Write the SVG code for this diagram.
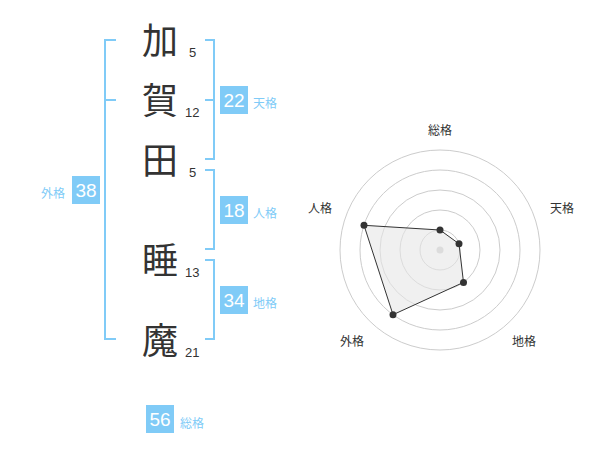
<svg xmlns="http://www.w3.org/2000/svg" width="600" height="470" viewBox="0 0 600 470">
<style>
.k{font-family:"Noto Sans CJK JP","Noto Sans CJK SC",sans-serif;font-size:36px;fill:#333;text-anchor:middle}
.n{font-family:"Liberation Sans",Arial,sans-serif;font-size:13px;fill:#333}
.br{fill:none;stroke:#80cbf7;stroke-width:2}
.bx{fill:#80cbf7}
.bn{font-family:"Liberation Sans",Arial,sans-serif;font-size:19px;fill:#fff;text-anchor:middle}
.lb{font-family:"Noto Sans CJK JP","Noto Sans CJK SC",sans-serif;font-size:12px;fill:#80cbf7}
.rl{font-family:"Noto Sans CJK JP","Noto Sans CJK SC",sans-serif;font-size:12px;fill:#333;text-anchor:middle}
.ci{fill:none;stroke:#ccc;stroke-width:1}
</style>
<rect width="600" height="470" fill="#fff"/>
<g id="chars">
<text class="k" x="160" y="54">加</text>
<text class="n" x="189" y="57">5</text>
<text class="k" x="160" y="114">賀</text>
<text class="n" x="185" y="117">12</text>
<text class="k" x="160" y="174">田</text>
<text class="n" x="189" y="177">5</text>
<text class="k" x="160" y="274">睡</text>
<text class="n" x="185" y="277">13</text>
<text class="k" x="160" y="354">魔</text>
<text class="n" x="185" y="357">21</text>
</g>
<g id="connectors">
<path class="br" d="M116,40 H105 V339 H116 M105,100 H116"/>
<path class="br" d="M205,40 H214 V159 H205 M205,100 H214"/>
<path class="br" d="M205,170 H214 V249 H205"/>
<path class="br" d="M205,260 H214 V339 H205"/>
</g>
<g id="gaikaku">
<rect class="bx" x="72" y="176" width="28" height="28"/>
<text class="bn" x="86" y="197">38</text>
<text class="lb" x="41" y="198">外格</text>
</g>
<g id="tenkaku">
<rect class="bx" x="220" y="86" width="28" height="28"/>
<text class="bn" x="234" y="107">22</text>
<text class="lb" x="253" y="108">天格</text>
</g>
<g id="jinkaku">
<rect class="bx" x="220" y="196" width="28" height="28"/>
<text class="bn" x="234" y="217">18</text>
<text class="lb" x="253" y="218">人格</text>
</g>
<g id="chikaku">
<rect class="bx" x="220" y="286" width="28" height="28"/>
<text class="bn" x="234" y="307">34</text>
<text class="lb" x="253" y="308">地格</text>
</g>
<g id="soukaku">
<rect class="bx" x="146" y="405" width="28" height="28"/>
<text class="bn" x="160" y="426">56</text>
<text class="lb" x="180" y="428">総格</text>
</g>
<g id="radar">
<circle class="ci" cx="440" cy="250" r="20"/>
<circle class="ci" cx="440" cy="250" r="40"/>
<circle class="ci" cx="440" cy="250" r="60"/>
<circle class="ci" cx="440" cy="250" r="80"/>
<circle class="ci" cx="440" cy="250" r="100"/>
<circle cx="440" cy="250" r="3.5" fill="#ccc"/>
<polygon points="440,230 459,243.8 463.5,282.4 393,314.7 364,225.3" fill="#e6e6e6" fill-opacity="0.6" stroke="#333" stroke-width="1"/>
<g fill="#333">
<circle cx="440" cy="230" r="3.5"/>
<circle cx="459" cy="243.8" r="3.5"/>
<circle cx="463.5" cy="282.4" r="3.5"/>
<circle cx="393" cy="314.7" r="3.5"/>
<circle cx="364" cy="225.3" r="3.5"/>
</g>
<text class="rl" x="440" y="135">総格</text>
<text class="rl" x="562" y="213">天格</text>
<text class="rl" x="524" y="346">地格</text>
<text class="rl" x="352" y="346">外格</text>
<text class="rl" x="320" y="213">人格</text>
</g>
</svg>
